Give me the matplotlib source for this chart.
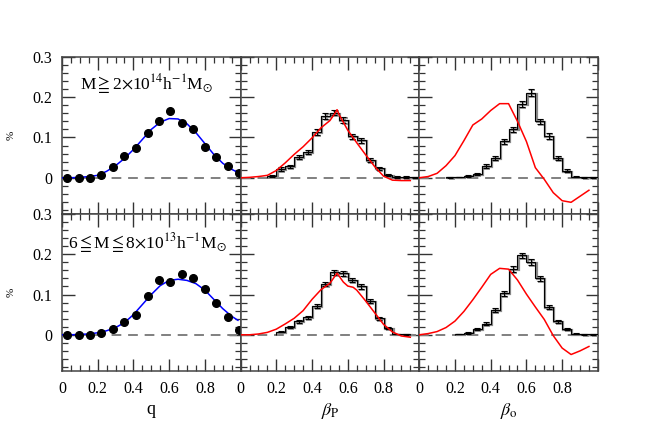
import numpy as np
import matplotlib
matplotlib.use("Agg")
import matplotlib.pyplot as plt
import matplotlib.transforms as mtransforms
from matplotlib.ticker import MultipleLocator

plt.rcParams['font.family'] = ['Liberation Serif', 'DejaVu Serif', 'DejaVu Sans']
plt.rcParams['mathtext.fontset'] = 'stix'

# q distribution: points and fitted curve (top: high mass, bottom: low mass)
q_pts = [0.028, 0.093, 0.155, 0.22, 0.285, 0.35, 0.413, 0.479,
         0.543, 0.606, 0.672, 0.736, 0.80, 0.864, 0.93, 0.993]
q_hi = [0.0, 0.0, 0.0, 0.007, 0.027, 0.055, 0.074, 0.112,
        0.140, 0.165, 0.136, 0.121, 0.076, 0.051, 0.028, 0.012]
q_lo = [0.0, 0.0, 0.0, 0.004, 0.014, 0.031, 0.048, 0.097,
        0.136, 0.130, 0.151, 0.142, 0.114, 0.079, 0.045, 0.012]

fit_x = [0.0, 0.05, 0.1, 0.15, 0.2, 0.25, 0.3, 0.35, 0.4, 0.45, 0.5,
         0.55, 0.6, 0.65, 0.7, 0.75, 0.8, 0.85, 0.9, 0.95, 0.985]
fit_hi = [0.0, 0.0, 0.001, 0.003, 0.006, 0.016, 0.03, 0.048, 0.07, 0.095, 0.12,
          0.138, 0.147, 0.146, 0.134, 0.112, 0.085, 0.058, 0.036, 0.021, 0.013]
fit_lo = [0.0, 0.0, 0.001, 0.002, 0.005, 0.01, 0.018, 0.03, 0.05, 0.075, 0.1,
          0.122, 0.135, 0.138, 0.135, 0.127, 0.111, 0.088, 0.065, 0.046, 0.036]

# histograms of beta (bin edges every 0.05)
edges = [0.0, 0.05, 0.1, 0.15, 0.2, 0.25, 0.3, 0.35, 0.4, 0.45, 0.5,
         0.55, 0.6, 0.65, 0.7, 0.75, 0.8, 0.85, 0.9, 0.95, 1.0]
bp_hi = [0, 0, 0, 0.004, 0.022, 0.028, 0.051, 0.064, 0.113, 0.154,
         0.162, 0.144, 0.103, 0.093, 0.045, 0.023, 0.007, 0.002, 0.002, 0.001]
bp_hi_err = [0, 0, 0, 0.002, 0.004, 0.004, 0.005, 0.006, 0.008, 0.008,
             0.006, 0.008, 0.006, 0.006, 0.005, 0.004, 0.003, 0.002, 0.002, 0.001]
bo_hi = [0, 0, 0, 0.001, 0.002, 0.004, 0.010, 0.029, 0.048, 0.091,
         0.120, 0.183, 0.211, 0.140, 0.103, 0.049, 0.018, 0.003, 0.001, 0.001]
bo_hi_err = [0, 0, 0, 0.001, 0.001, 0.002, 0.003, 0.004, 0.005, 0.006,
             0.007, 0.008, 0.009, 0.007, 0.007, 0.005, 0.004, 0.002, 0.001, 0.001]
bp_lo = [0, 0, 0, 0, 0.008, 0.019, 0.033, 0.043, 0.072, 0.126,
         0.155, 0.153, 0.136, 0.120, 0.083, 0.041, 0.017, 0.002, 0.001, 0.0]
bp_lo_err = [0, 0, 0, 0, 0.002, 0.003, 0.004, 0.004, 0.005, 0.006,
             0.006, 0.006, 0.006, 0.006, 0.005, 0.004, 0.003, 0.001, 0.001, 0]
bo_lo = [0, 0, 0, 0, 0.002, 0.004, 0.014, 0.028, 0.062, 0.103,
         0.164, 0.197, 0.180, 0.140, 0.070, 0.033, 0.015, 0.003, 0.001, 0.001]
bo_lo_err = [0, 0, 0, 0, 0.001, 0.002, 0.003, 0.004, 0.005, 0.006,
             0.007, 0.007, 0.007, 0.006, 0.005, 0.004, 0.003, 0.002, 0.001, 0.001]

# red model curves
bp_hi_x = [0.0, 0.05, 0.1, 0.15, 0.2, 0.25, 0.3, 0.35, 0.4, 0.45, 0.5, 0.525,
           0.54, 0.55, 0.6, 0.65, 0.7, 0.75, 0.8, 0.85, 0.9, 0.95]
bp_hi_y = [0.0, 0.001, 0.003, 0.006, 0.018, 0.037, 0.058, 0.077, 0.099, 0.124, 0.142,
           0.158, 0.169, 0.158, 0.118, 0.087, 0.057, 0.028, 0.004, -0.006, -0.007, -0.007]
bp_lo_x = [0.0, 0.05, 0.1, 0.15, 0.2, 0.25, 0.3, 0.35, 0.4, 0.45, 0.5, 0.54,
           0.575, 0.6, 0.63, 0.65, 0.7, 0.75, 0.8, 0.85, 0.9, 0.95]
bp_lo_y = [0.0, 0.0, 0.002, 0.006, 0.014, 0.027, 0.041, 0.06, 0.088, 0.112, 0.128, 0.153,
           0.131, 0.121, 0.118, 0.111, 0.084, 0.055, 0.026, 0.007, -0.003, -0.006]
bo_x = [0.0, 0.05, 0.1, 0.15, 0.2, 0.25, 0.3, 0.35, 0.4, 0.45, 0.5,
        0.55, 0.6, 0.65, 0.7, 0.75, 0.8, 0.85, 0.9, 0.95]
bo_hi_y = [0.0, 0.003, 0.011, 0.03, 0.055, 0.092, 0.131, 0.146, 0.167, 0.184, 0.184,
           0.14, 0.09, 0.025, -0.004, -0.037, -0.057, -0.061, -0.046, -0.031]
bo_lo_y = [0.0, 0.003, 0.008, 0.018, 0.034, 0.058, 0.087, 0.118, 0.150, 0.165, 0.163,
           0.136, 0.101, 0.069, 0.038, -0.002, -0.033, -0.049, -0.04, -0.029]

labels = [r"M${\geqq}$2${\times}$10$^{14}$h$^{-1}$M$_{\odot}$",
          r"6${\leqq}$M${\leqq}$8${\times}$10$^{13}$h$^{-1}$M$_{\odot}$"]

fig, axes = plt.subplots(2, 3, figsize=(6.52, 4.25), dpi=100)
plt.subplots_adjust(left=0.095, right=0.917, top=0.866, bottom=0.127, wspace=0, hspace=0)

edges = np.array(edges)
centers = (edges[:-1] + edges[1:]) / 2


def draw_hist(ax, vals, errs):
    vals = np.array(vals, dtype=float)
    errs = np.array(errs, dtype=float)
    nz = np.nonzero(vals)[0]
    i0, i1 = nz[0], nz[-1] + 1
    shadow = mtransforms.offset_copy(ax.transData, fig=fig, x=1.2, y=-1.0, units='dots')
    ax.stairs(vals[i0:i1], edges[i0:i1 + 1], color='#8a8a8a', lw=1.6,
              transform=shadow, zorder=3)
    ax.errorbar(centers[nz], vals[nz], yerr=errs[nz], fmt='none', ecolor='#8a8a8a',
                elinewidth=1.2, capsize=2.5, capthick=1.2, transform=shadow, zorder=3)
    ax.stairs(vals[i0:i1], edges[i0:i1 + 1], color='black', lw=0.8, zorder=4)
    ax.errorbar(centers[nz], vals[nz], yerr=errs[nz], fmt='none', ecolor='black',
                elinewidth=0.8, capsize=2.5, capthick=0.8, zorder=5)


for row in range(2):
    ax_q, ax_p, ax_o = axes[row]
    # q panel
    if row == 0:
        ax_q.plot(fit_x, fit_hi, color='blue', lw=1.1, zorder=3)
        ax_q.plot(q_pts, q_hi, 'o', color='black', ms=5.5, zorder=4, clip_on=False)
    else:
        ax_q.plot(fit_x, fit_lo, color='blue', lw=1.1, zorder=3)
        ax_q.plot(q_pts, q_lo, 'o', color='black', ms=5.5, zorder=4, clip_on=False)
    ax_q.text(0.10 if row == 0 else 0.035, 0.83 if row == 0 else 0.815, labels[row],
              transform=ax_q.transAxes, fontsize=12.5, va='center', ha='left')

    if row == 0:
        draw_hist(ax_p, bp_hi, bp_hi_err)
        ax_p.plot(bp_hi_x, bp_hi_y, color='red', lw=1.1, zorder=6)
        draw_hist(ax_o, bo_hi, bo_hi_err)
        ax_o.plot(bo_x, bo_hi_y, color='red', lw=1.1, zorder=6)
    else:
        draw_hist(ax_p, bp_lo, bp_lo_err)
        ax_p.plot(bp_lo_x, bp_lo_y, color='red', lw=1.1, zorder=6)
        draw_hist(ax_o, bo_lo, bo_lo_err)
        ax_o.plot(bo_x, bo_lo_y, color='red', lw=1.1, zorder=6)

    for col, ax in enumerate(axes[row]):
        ax.axhline(0, color='#808080', lw=1.4, ls=(0, (5, 3.5)), zorder=2)
        ax.set_xlim(0, 1)
        ax.set_ylim(-0.09, 0.3)
        ax.xaxis.set_major_locator(MultipleLocator(0.2))
        ax.xaxis.set_minor_locator(MultipleLocator(0.05))
        ax.yaxis.set_major_locator(MultipleLocator(0.1))
        ax.yaxis.set_minor_locator(MultipleLocator(0.02))
        ax.tick_params(which='both', direction='in', top=True, right=True,
                       color='#333333', labelsize=11.5, pad=7)
        ax.tick_params(which='major', length=9, width=1.0)
        ax.tick_params(which='minor', length=4.5, width=0.9)
        for s in ax.spines.values():
            s.set_color('#444444')
            s.set_linewidth(1.1)
        if col == 0:
            ax.set_yticks([0, 0.1, 0.2, 0.3])
            ax.set_yticklabels(['0', '0.1', '0.2', '0.3'])
            ax.set_ylabel('%', rotation=90, fontsize=8, labelpad=12)
        else:
            ax.set_yticklabels([])
        if row == 1:
            ax.set_xticks([0, 0.2, 0.4, 0.6, 0.8, 1.0])
            ax.set_xticklabels(['0', '0.2', '0.4', '0.6', '0.8', ''])
        else:
            ax.set_xticklabels([])

axes[1, 0].set_xlabel('q', fontsize=13, labelpad=3)
axes[1, 1].set_xlabel(r'$\beta_{\rm P}$', fontsize=13, labelpad=3)
axes[1, 2].set_xlabel(r'$\beta_{\rm o}$', fontsize=13, labelpad=3)

fig.savefig('out.png', dpi=100)
